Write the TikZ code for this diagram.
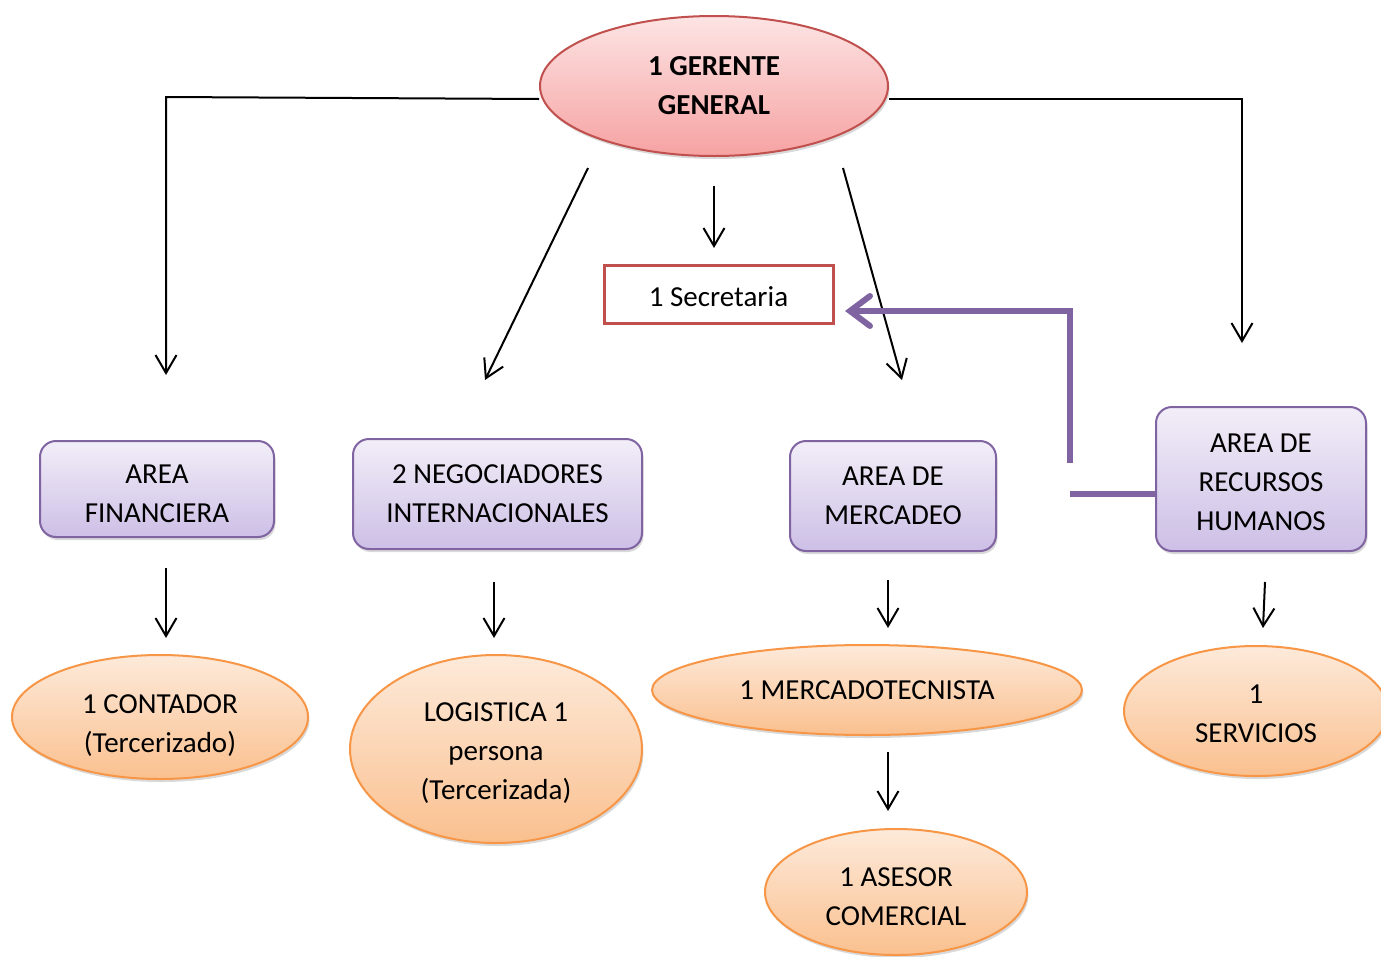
\documentclass[tikz,border=0pt]{standalone}
\usepackage{fontspec}
\setmainfont{Carlito}
\usetikzlibrary{arrows.meta,shapes.geometric,shadows}
\definecolor{purpTop}{HTML}{F2EEF8}
\definecolor{purpBot}{HTML}{CDBFE6}
\definecolor{purpEdge}{HTML}{8064A2}
\definecolor{orTop}{HTML}{FDEADA}
\definecolor{orBot}{HTML}{FAC08F}
\definecolor{orEdge}{HTML}{F79646}
\definecolor{pkTop}{HTML}{FDE4E4}
\definecolor{pkBot}{HTML}{F6A2A2}
\definecolor{redEdge}{HTML}{C0504D}
\newcommand\topgap[1]{\rule{0pt}{#1}}
\tikzset{
  txt/.style={font=\fontsize{29}{39}\selectfont, align=center, text=black},
  shad/.style={drop shadow={shadow xshift=1.5pt,shadow yshift=-3pt,opacity=0.3}},
  purplebox/.style={rectangle, rounded corners=16pt, draw=purpEdge, line width=2pt, top color=purpTop, bottom color=purpBot, inner sep=0pt, shad, txt},
  orangeell/.style={ellipse, draw=orEdge, line width=2pt, top color=orTop, bottom color=orBot, inner sep=0pt, shad, txt},
  arr/.style={-{Straight Barb[length=18pt,width=21pt]}, line width=2pt},
  purparr/.style={-{Straight Barb[length=20pt,width=30pt,line cap=round]}, line width=6pt, draw=purpEdge},
}
\begin{document}
\begin{tikzpicture}[x=1pt,y=-1pt]
\useasboundingbox (0,0) rectangle (1381,956);
\clip (0,0) rectangle (1381,956);
% top
\node[ellipse, draw=redEdge, line width=2pt, top color=pkTop, bottom color=pkBot, inner sep=0pt, shad, txt, font=\fontsize{29}{39}\selectfont\bfseries, minimum width=348pt, minimum height=140pt] (ger) at (714,86) {1 GERENTE\\GENERAL};
\node[rectangle, draw=redEdge, line width=3pt, fill=white, txt, minimum width=229pt, minimum height=58pt, inner sep=0pt] (sec) at (718.5,294) {\topgap{25pt}1 Secretaria};
% level 2
\node[purplebox, minimum width=234pt, minimum height=96pt] (af) at (157,489) {\topgap{29pt}AREA\\FINANCIERA};
\node[purplebox, minimum width=289pt, minimum height=110pt] (neg) at (497.5,494) {2 NEGOCIADORES\\INTERNACIONALES};
\node[purplebox, minimum width=206pt, minimum height=110pt] (mer) at (893,496) {AREA DE\\MERCADEO};
\node[purplebox, minimum width=210pt, minimum height=144pt] (rrhh) at (1261,479) {\topgap{25pt}AREA DE\\RECURSOS\\HUMANOS};
% level 3
\node[orangeell, minimum width=296pt, minimum height=124pt] (cont) at (160,717) {\topgap{35pt}1 CONTADOR\\(Tercerizado)};
\node[orangeell, minimum width=292pt, minimum height=188pt] (log) at (496,749) {\topgap{27pt}LOGISTICA 1\\persona\\(Tercerizada)};
\node[orangeell, minimum width=430pt, minimum height=90pt] (mkt) at (867,690) {1 MERCADOTECNISTA};
\node[orangeell, minimum width=264pt, minimum height=130pt] (serv) at (1256,711) {\topgap{25pt}1\\SERVICIOS};
\node[orangeell, minimum width=262pt, minimum height=126pt] (ase) at (896,892) {\topgap{29pt}1 ASESOR\\COMERCIAL};
% coordinates
\coordinate (lc) at (166,97);
\coordinate (la) at (166,375);
\coordinate (rc) at (1242,99);
\coordinate (ra) at (1242,343);
\coordinate (d1s) at (588,168);
\coordinate (d1e) at (485,380);
\coordinate (vs) at (714,186);
\coordinate (ve) at (714,248);
\coordinate (d2s) at (843,168);
\coordinate (d2e) at (902,380);
\coordinate (p1) at (1070,463);
\coordinate (p2) at (1070,311);
\coordinate (p3) at (845,311);
\coordinate (q1) at (1070,494);
\coordinate (a1s) at (166,568); \coordinate (a1e) at (166,638);
\coordinate (a2s) at (494,582); \coordinate (a2e) at (494,638);
\coordinate (a3s) at (888,580); \coordinate (a3e) at (888,628);
\coordinate (a4s) at (1265,582); \coordinate (a4e) at (1263,628);
\coordinate (a5s) at (888,752); \coordinate (a5e) at (888,811);
% connectors
\draw[arr] ([yshift=-13pt]ger.west) -- (lc) -- (la);
\draw[arr] ([yshift=-13pt]ger.east) -- (rc) -- (ra);
\draw[arr] (d1s) -- (d1e);
\draw[arr] (vs) -- (ve);
\draw[arr] (d2s) -- (d2e);
\draw[purparr] (p1) -- (p2) -- (p3);
\draw[line width=6pt, draw=purpEdge] ([yshift=-15pt]rrhh.west) -- (q1);
\draw[arr] (a1s) -- (a1e);
\draw[arr] (a2s) -- (a2e);
\draw[arr] (a3s) -- (a3e);
\draw[arr] (a4s) -- (a4e);
\draw[arr] (a5s) -- (a5e);
\end{tikzpicture}
\end{document}
